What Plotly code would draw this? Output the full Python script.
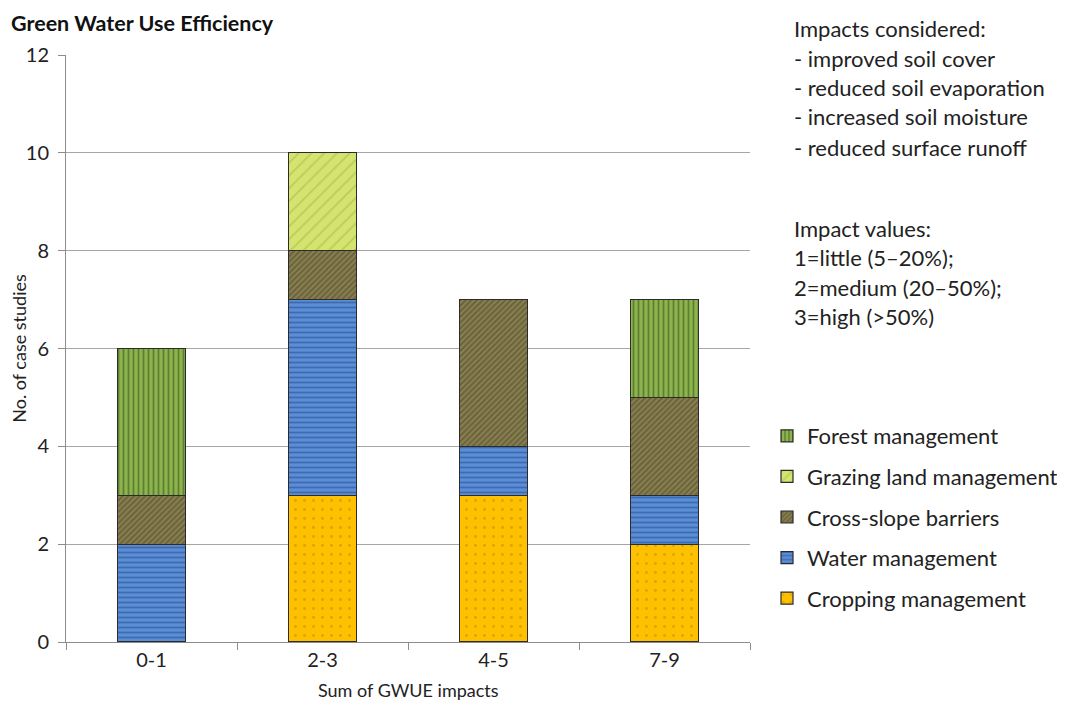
import plotly.graph_objects as go

categories = ["0-1", "2-3", "4-5", "7-9"]
cropping = [0, 3, 3, 2]
water = [2, 4, 1, 1]
cross_slope = [1, 1, 3, 2]
grazing = [0, 2, 0, 0]
forest = [3, 0, 0, 2]

series_names = ["Cropping management", "Water management", "Cross-slope barriers",
                "Grazing land management", "Forest management"]
series_values = [cropping, water, cross_slope, grazing, forest]

styles = [
    dict(color="#ffc000", pattern=dict(shape=".", fgcolor="#b08a10", size=9, solidity=0.08)),
    dict(color="#5a8ed8", pattern=dict(shape="-", fgcolor="#24477f", size=5, solidity=0.35)),
    dict(color="#8a8050", pattern=dict(shape="/", fgcolor="#4a4428", size=4, solidity=0.5)),
    dict(color="#d4e46e", pattern=dict(shape="/", fgcolor="#9fb54c", size=9, solidity=0.2)),
    dict(color="#8db44c", pattern=dict(shape="|", fgcolor="#2f4a18", size=5, solidity=0.35)),
]

FONT = "Lato"
fig = go.Figure()
n = len(series_names)
for i, (name, vals, st) in enumerate(zip(series_names, series_values, styles)):
    fig.add_trace(go.Bar(
        x=categories, y=vals, name=name, legendgroup=name, legendrank=n - i,
        marker=dict(color=st["color"], pattern=st["pattern"],
                    line=dict(color="#2b2b2b", width=1.2)),
        width=0.4,
    ))

# page body has an 8px margin: work in screen coords and subtract it
OFF = 8
W, H = 1065 - 2 * OFF, 711 - 2 * OFF
PL, PT, PR, PB = 66, 55, 750, 642  # plot area in screen pixels
L, T = PL - OFF, PT - OFF
R, B = W - (PR - OFF), H - (PB - OFF)
pw, ph = W - L - R, H - T - B

def py(ypx):
    return (H - B - (ypx - OFF)) / ph

def px(xpx):
    return ((xpx - OFF) - L) / pw

fig.update_layout(
    width=W, height=H,
    margin=dict(l=L, r=R, t=T, b=B, autoexpand=False),
    barmode="stack",
    plot_bgcolor="white", paper_bgcolor="white",
    font=dict(family=FONT, size=18, color="#222222"),
    showlegend=True,
    legend=dict(
        traceorder="grouped", tracegroupgap=9,
        x=px(767), xanchor="left", y=py(415), yanchor="top",
        font=dict(size=22, color="#222222"),
        itemwidth=30,
        bgcolor="rgba(0,0,0,0)",
    ),
)

fig.update_yaxes(
    range=[0, 12], dtick=2, showgrid=True, gridcolor="#a6a6a6", gridwidth=1,
    showline=True, linecolor="#8c8c8c", linewidth=1,
    ticks="outside", ticklen=7, tickcolor="#8c8c8c", ticklabelstandoff=5,
    tickfont=dict(size=20, color="#222222"),
    title=dict(text="No. of case studies", font=dict(size=18), standoff=14),
    zeroline=False, automargin=False,
)
fig.update_xaxes(
    showline=True, linecolor="#8c8c8c", linewidth=1,
    ticks="outside", ticklen=7, tickcolor="#8c8c8c", tickson="boundaries",
    tickfont=dict(size=20, color="#222222"),
    automargin=False,
)

fig.add_annotation(
    text="Sum of GWUE impacts", xref="paper", yref="paper",
    x=0.5, y=py(H + OFF - 1), xanchor="center", yanchor="bottom", showarrow=False,
    borderpad=0, font=dict(size=18, color="#222222"),
)

fig.add_annotation(
    text="<b>Green Water Use Efficiency</b>", xref="paper", yref="paper",
    x=px(10), y=py(OFF + 1), xanchor="left", yanchor="top", showarrow=False,
    borderpad=0, font=dict(size=21.5, color="#111111"),
)

info_lines = [
    ("Impacts considered:", 29),
    ("- improved soil cover", 59),
    ("- reduced soil evaporation", 88),
    ("- increased soil moisture", 118),
    ("- reduced surface runoff", 148),
    ("Impact values:", 229),
    ("1=little (5\u201320%);", 258),
    ("2=medium (20\u201350%);", 288),
    ("3=high (>50%)", 317),
]
for txt, ypx in info_lines:
    fig.add_annotation(
        text=txt, xref="paper", yref="paper", x=px(792), y=py(ypx - 1),
        xanchor="left", yanchor="middle", showarrow=False,
        font=dict(size=22, color="#222222"),
    )

fig.write_html("out.html")
